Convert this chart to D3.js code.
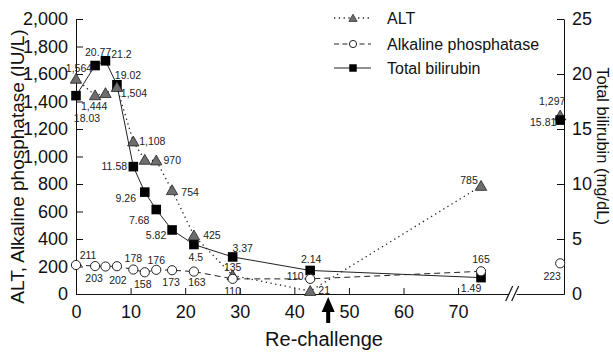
<!DOCTYPE html>
<html>
<head>
<meta charset="utf-8">
<script src="https://cdn.jsdelivr.net/npm/d3@7"></script>
<style>
  body { margin: 0; background: #fff; }
  svg { display: block; font-family: "Liberation Sans", Arial, sans-serif; }
</style>
</head>
<body>
<div id="chart"></div>
<script>
// days since admission
const days = [0, 3.5, 5.4, 7.5, 10.5, 12.6, 14.7, 17.6, 21.6, 28.7, 42.9, 74.2];
const altValues = [1564, 1444, 1460, 1504, 1108, 975, 970, 754, 425, 135, 21, 785];
const alpValues = [211, 203, 200, 202, 178, 158, 176, 173, 163, 110, 110, 165];
const tbilValues = [18.03, 20.77, 21.2, 19.02, 11.58, 9.26, 7.68, 5.82, 4.5, 3.37, 2.14, 1.49];
// values measured after the axis break
const lateAlt = 1297, lateAlp = 223, lateTbil = 15.81;
const rechallengeDay = 46.2;

const xTicks = [0, 10, 20, 30, 40, 50, 60, 70];
const leftTicks = [0, 200, 400, 600, 800, 1000, 1200, 1400, 1600, 1800, 2000];
const rightTicks = [0, 5, 10, 15, 20, 25];
const seriesNames = ["ALT", "Alkaline phosphatase", "Total bilirubin"];

// label offsets [dx, dy] from each marker, null = no label shown
const altLabelPos = [[3,-11],[-1,11],null,[17,6],[19,0],null,[16,0],[18,2],[18,0],[0,-8],[14,-1],[-12,-6]];
const alpLabelPos = [[12,-10],[-1,12],null,[1,14],[0,-11],[-2,12],[0,-9],[-1,12],[3,11],[0,12],[-15,-3],[0,-12]];
const tbilLabelPos = [[11,23],[3,-13],[16,-6],[11,-9],[-19,0],[-19,6],[-17,11],[-16,5],[2,13],[10,-9],[1,-11],[-10,11]];

const W = 613, H = 352;
const margin = {top: 19, right: 49, bottom: 58, left: 76};
const width = W - margin.left - margin.right;
const height = H - margin.top - margin.bottom;
const breakAt = 80;   // axis position of the // mark
const lateX = 88.7;   // nominal axis position of the late sample

const svg = d3.select("#chart").append("svg")
  .attr("width", W)
  .attr("height", H);

const g = svg.append("g")
  .attr("transform", `translate(${margin.left},${margin.top})`);

const x = d3.scaleLinear().domain([0, 89.4]).range([0, width]);
const yL = d3.scaleLinear().domain([0, 2000]).range([height, 0]);
const yR = d3.scaleLinear().domain([0, 25]).range([height, 0]);

// axes
const tickFont = "18px";
g.append("g")
  .attr("transform", `translate(0,${height})`)
  .call(d3.axisBottom(x).tickValues(xTicks).tickSize(-6).tickSizeOuter(0).tickPadding(11))
  .call(a => a.selectAll("text").style("font-size", tickFont));
g.append("g")
  .call(d3.axisLeft(yL).tickValues(leftTicks).tickFormat(d3.format(",")).tickSize(-7).tickSizeOuter(0).tickPadding(8))
  .call(a => a.selectAll("text").style("font-size", tickFont));
g.append("g")
  .attr("transform", `translate(${width},0)`)
  .call(d3.axisRight(yR).tickValues(rightTicks).tickSize(-7).tickSizeOuter(0).tickPadding(8))
  .call(a => a.selectAll("text").style("font-size", tickFont));
g.selectAll(".domain, .tick line").attr("stroke", "#111");
g.selectAll(".tick text").attr("fill", "#111").style("font-family", "Liberation Sans, Arial, sans-serif");

// axis break
const bx = x(breakAt);
g.append("rect").attr("x", bx - 4).attr("y", height - 3).attr("width", 8).attr("height", 6).attr("fill", "#fff");
[-3, 3].forEach(o => {
  g.append("line")
    .attr("x1", bx + o - 4).attr("y1", height + 7)
    .attr("x2", bx + o + 3).attr("y2", height - 8)
    .attr("stroke", "#111").attr("stroke-width", 1.2);
});

// axis titles
svg.append("text")
  .attr("transform", `translate(24,${margin.top + height / 2 + 10}) rotate(-90)`)
  .attr("text-anchor", "middle")
  .style("font-size", "19px").attr("fill", "#111")
  .text("ALT, Alkaline phosphatase (IU/L)");
svg.append("text")
  .attr("transform", `translate(597,${margin.top + 127}) rotate(90)`)
  .attr("text-anchor", "middle")
  .style("font-size", "16.5px").attr("fill", "#111")
  .text("Total bilirubin (mg/dL)");

// lines
const pts = (vals, y) => days.map((d, i) => [x(d), y(vals[i])]);
const line = d3.line();
g.append("path").attr("d", line(pts(altValues, yL)))
  .attr("fill", "none").attr("stroke", "#222").attr("stroke-width", 1.3).attr("stroke-dasharray", "1.3,3.5");
g.append("path").attr("d", line(pts(alpValues, yL)))
  .attr("fill", "none").attr("stroke", "#222").attr("stroke-width", 1).attr("stroke-dasharray", "6,4");
g.append("path").attr("d", line(pts(tbilValues, yR)))
  .attr("fill", "none").attr("stroke", "#222").attr("stroke-width", 1);

// markers
const tri = d3.symbol(d3.symbolTriangle, 56);
const sq = d3.symbol(d3.symbolSquare, 92);
const drawTri = (sel) => sel
  .attr("transform", d => `translate(${d[0]},${d[1] + 1})`)
  .attr("d", tri).attr("fill", "#6e6e6e").attr("stroke", "#222").attr("stroke-width", 0.8);

// late ALT sits behind the late bilirubin square
g.selectAll(".triLate").data([[x(lateX), yL(lateAlt)]]).enter().append("path").call(drawTri);

const tbilPts = pts(tbilValues, yR).concat([[x(lateX), yR(lateTbil)]]);
g.selectAll(".sq").data(tbilPts).enter().append("path")
  .attr("transform", d => `translate(${d[0]},${d[1]})`)
  .attr("d", sq).attr("fill", "#000");

g.selectAll(".tri").data(pts(altValues, yL)).enter().append("path").call(drawTri);

const alpPts = pts(alpValues, yL).concat([[x(lateX), yL(lateAlp)]]);
g.selectAll(".circ").data(alpPts).enter().append("circle")
  .attr("cx", d => d[0]).attr("cy", d => d[1]).attr("r", 4.6)
  .attr("fill", "#fff").attr("stroke", "#222").attr("stroke-width", 1);

// value labels
function addLabels(vals, y, offsets, fmt) {
  vals.forEach((v, i) => {
    const o = offsets[i];
    if (!o) return;
    g.append("text")
      .attr("x", x(days[i]) + o[0])
      .attr("y", y(v) + o[1])
      .attr("text-anchor", "middle")
      .attr("dy", "0.35em")
      .style("font-size", "10.5px").attr("fill", "#222")
      .text(fmt(v));
  });
}
addLabels(altValues, yL, altLabelPos, d3.format(","));
addLabels(alpValues, yL, alpLabelPos, d3.format(","));
addLabels(tbilValues, yR, tbilLabelPos, v => String(v));

// late sample labels
const lx = x(lateX);
g.append("text").attr("x", lx - 8).attr("y", yL(lateAlt) - 14).attr("dy", "0.35em")
  .attr("text-anchor", "middle").style("font-size", "10.5px").attr("fill", "#222").text(d3.format(",")(lateAlt));
g.append("text").attr("x", lx - 17).attr("y", yR(lateTbil) + 2).attr("dy", "0.35em")
  .attr("text-anchor", "middle").style("font-size", "10.5px").attr("fill", "#222").text(lateTbil);
g.append("text").attr("x", lx - 8).attr("y", yL(lateAlp) + 13).attr("dy", "0.35em")
  .attr("text-anchor", "middle").style("font-size", "10.5px").attr("fill", "#222").text(lateAlp);

// re-challenge arrow
const ax = x(rechallengeDay);
g.append("path")
  .attr("d", `M${ax},${height + 3} L${ax + 6.5},${height + 18} L${ax + 2},${height + 18} L${ax + 2},${height + 29} L${ax - 2},${height + 29} L${ax - 2},${height + 18} L${ax - 6.5},${height + 18} Z`)
  .attr("fill", "#000");
svg.append("text")
  .attr("x", 324).attr("y", 346)
  .attr("text-anchor", "middle")
  .style("font-size", "20px").attr("fill", "#111")
  .text("Re-challenge");

// legend
const legend = svg.append("g").attr("transform", "translate(334,0)");
const legendY = [18, 44, 68];
const legendDash = ["1.3,3.5", "5,3.5", null];
seriesNames.forEach((name, i) => {
  const row = legend.append("g").attr("transform", `translate(0,${legendY[i]})`);
  row.append("line").attr("x1", 0).attr("x2", 37)
    .attr("stroke", "#222").attr("stroke-width", i === 0 ? 1.3 : 1)
    .attr("stroke-dasharray", legendDash[i]);
  if (i === 0) row.append("path").attr("d", d3.symbol(d3.symbolTriangle, 30)).attr("transform", "translate(19,1)")
    .attr("fill", "#6e6e6e").attr("stroke", "#222").attr("stroke-width", 0.7);
  if (i === 1) row.append("circle").attr("cx", 19).attr("r", 3.6).attr("fill", "#fff").attr("stroke", "#222");
  if (i === 2) row.append("path").attr("d", d3.symbol(d3.symbolSquare, 56)).attr("transform", "translate(19,0)").attr("fill", "#000");
  row.append("text").attr("x", 53).attr("dy", "0.35em")
    .style("font-size", "16px").attr("fill", "#111").text(name);
});
</script>
</body>
</html>
